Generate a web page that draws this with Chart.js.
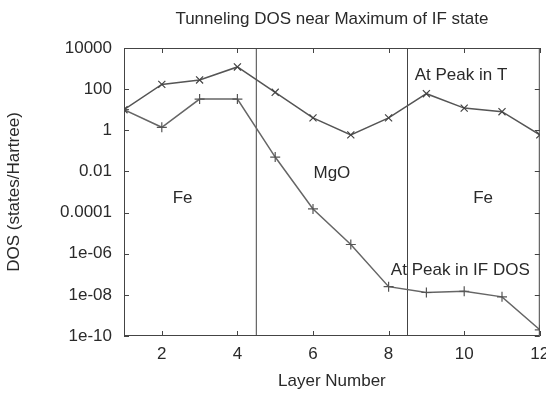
<!DOCTYPE html>
<html>
<head>
<meta charset="utf-8">
<script src="https://cdn.jsdelivr.net/npm/chart.js@4/dist/chart.umd.min.js"></script>
<style>
  html, body { margin: 0; padding: 0; background: #fff; }
  #wrap { width: 546px; height: 396px; }
</style>
</head>
<body>
<div id="wrap"><canvas id="dosChart" width="546" height="396"></canvas></div>
<script>
// Tunneling DOS per layer, two k-points
const layers = [1, 2, 3, 4, 5, 6, 7, 8, 9, 10, 11, 12];
const dosPeakT = [10, 170, 280, 1200, 70, 4, 0.6, 4, 60, 12, 8, 0.6];
const dosPeakIF = [10, 1.4, 33, 33, 0.05, 1.5e-4, 2.8e-6, 2.5e-8, 1.3e-8, 1.5e-8, 8e-9, 2e-10];

// interfaces between Fe | MgO | Fe
const interfaces = [4.5, 8.5];

const xTicks = [2, 4, 6, 8, 10, 12];
const yTicks = [1e4, 1e2, 1, 1e-2, 1e-4, 1e-6, 1e-8, 1e-10];
const yTickLabels = ['10000', '100', '1', '0.01', '0.0001', '1e-06', '1e-08', '1e-10'];

// region labels placed in data coordinates
const regionLabels = [
  { text: 'Fe', x: 2.55, y: 5e-4 },
  { text: 'MgO', x: 6.5, y: 8e-3 },
  { text: 'Fe', x: 10.5, y: 5e-4 },
  { text: 'At Peak in T', x: 8.69, y: 480, align: 'left' },
  { text: 'At Peak in IF DOS', x: 8.06, y: 1.5e-7, align: 'left' }
];

const FONT = '"Liberation Sans", Arial, sans-serif';
const INK = '#2a2a2a';

const frame = {
  id: 'frame',
  afterDatasetsDraw(chart) {
    const { ctx, chartArea: a, scales: { x, y } } = chart;
    ctx.save();
    ctx.strokeStyle = '#444';
    ctx.lineWidth = 1;
    ctx.strokeRect(a.left + 0.5, a.top + 0.5, a.right - a.left - 1, a.bottom - a.top - 1);

    // inward ticks, mirrored
    ctx.beginPath();
    xTicks.forEach(v => {
      const px = Math.round(x.getPixelForValue(v)) + 0.5;
      ctx.moveTo(px, a.bottom); ctx.lineTo(px, a.bottom - 5);
      ctx.moveTo(px, a.top); ctx.lineTo(px, a.top + 5);
    });
    yTicks.forEach(v => {
      const py = Math.round(y.getPixelForValue(v)) + 0.5;
      ctx.moveTo(a.left, py); ctx.lineTo(a.left + 5, py);
      ctx.moveTo(a.right, py); ctx.lineTo(a.right - 5, py);
    });
    ctx.stroke();

    ctx.fillStyle = INK;
    ctx.font = '17px ' + FONT;
    ctx.textBaseline = 'middle';
    regionLabels.forEach(l => {
      ctx.textAlign = l.align || 'center';
      ctx.fillText(l.text, x.getPixelForValue(l.x), y.getPixelForValue(l.y));
    });

    ctx.textAlign = 'center';
    ctx.fillText('Tunneling DOS near Maximum of IF state', (a.left + a.right) / 2, 19);
    ctx.restore();
  }
};

new Chart(document.getElementById('dosChart'), {
  type: 'line',
  data: {
    datasets: [
      {
        label: 'At Peak in T',
        data: layers.map((l, i) => ({ x: l, y: dosPeakT[i] })),
        borderColor: '#555',
        borderWidth: 1.5,
        pointStyle: 'crossRot',
        pointRadius: 5,
        pointBorderColor: '#444',
        pointBorderWidth: 1.2,
        tension: 0
      },
      {
        label: 'At Peak in IF DOS',
        data: layers.map((l, i) => ({ x: l, y: dosPeakIF[i] })),
        borderColor: '#666',
        borderWidth: 1.5,
        pointStyle: 'cross',
        pointRadius: 5,
        pointBorderColor: '#555',
        pointBorderWidth: 1.2,
        tension: 0
      },
      ...interfaces.map(xv => ({
        label: 'interface',
        data: [{ x: xv, y: 1e-10 }, { x: xv, y: 1e4 }],
        borderColor: '#444',
        borderWidth: 1,
        pointRadius: 0
      }))
    ]
  },
  options: {
    responsive: false,
    animation: false,
    layout: { padding: { top: 48, right: 2, bottom: 0, left: 0 } },
    plugins: {
      legend: { display: false },
      tooltip: { enabled: false }
    },
    scales: {
      x: {
        type: 'linear',
        min: 1,
        max: 12,
        grid: { display: false },
        border: { display: false },
        afterBuildTicks: s => { s.ticks = xTicks.map(v => ({ value: v })); },
        afterFit: s => { s.height = 60; s.paddingLeft = 0; s.paddingRight = 0; },
        ticks: { color: INK, font: { family: FONT, size: 17 }, padding: 0, maxRotation: 0 },
        title: { display: true, text: 'Layer Number', color: INK, font: { family: FONT, size: 17 }, padding: { top: 4 } }
      },
      y: {
        type: 'logarithmic',
        min: 1e-10,
        max: 1e4,
        grid: { display: false },
        border: { display: false },
        afterBuildTicks: s => { s.ticks = yTicks.map(v => ({ value: v })); },
        afterFit: s => { s.width = 124; s.paddingTop = 0; s.paddingBottom = 0; },
        ticks: {
          color: INK,
          font: { family: FONT, size: 17 },
          padding: 4,
          callback: v => yTickLabels[yTicks.indexOf(v)] ?? ''
        },
        title: { display: true, text: 'DOS (states/Hartree)', color: INK, font: { family: FONT, size: 17 }, padding: { bottom: 4 } }
      }
    }
  },
  plugins: [frame]
});
</script>
</body>
</html>
